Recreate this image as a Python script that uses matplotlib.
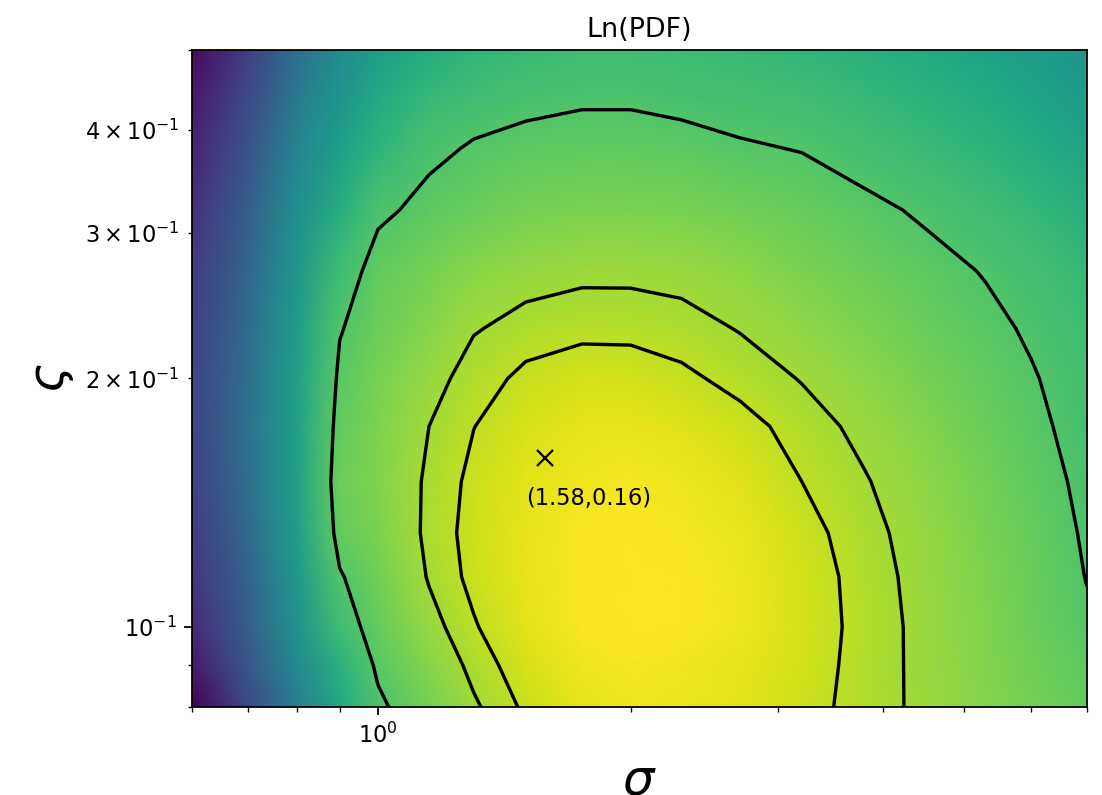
import matplotlib
matplotlib.use("Agg")
import matplotlib.pyplot as plt
import numpy as np

# grid (colour scale 0 = darkest, 1 = brightest)
sigma = [0.6, 0.7, 0.8, 0.9, 1.0, 1.15, 1.3, 1.5, 1.75, 2.0, 2.3, 2.7, 3.2, 3.8, 4.5, 5.3, 6.0, 7.0]
zeta = [0.08, 0.09, 0.10, 0.115, 0.13, 0.15, 0.175, 0.2, 0.23, 0.27, 0.32, 0.38, 0.44, 0.5]

lnpdf = [
    [0.00, 0.22, 0.420, 0.600, 0.715, 0.791, 0.854, 0.915, 0.962, 0.975, 0.970, 0.954, 0.924, 0.885, 0.848, 0.815, 0.790, 0.758],
    [0.07, 0.27, 0.470, 0.635, 0.745, 0.816, 0.878, 0.937, 0.975, 0.985, 0.980, 0.962, 0.930, 0.886, 0.847, 0.811, 0.784, 0.750],
    [0.12, 0.30, 0.505, 0.690, 0.765, 0.842, 0.900, 0.955, 0.990, 1.000, 0.994, 0.974, 0.935, 0.887, 0.846, 0.807, 0.777, 0.738],
    [0.15, 0.32, 0.535, 0.723, 0.784, 0.867, 0.920, 0.964, 0.992, 1.000, 0.994, 0.974, 0.933, 0.884, 0.842, 0.801, 0.770, 0.728],
    [0.17, 0.34, 0.555, 0.760, 0.799, 0.876, 0.924, 0.964, 0.989, 0.995, 0.988, 0.965, 0.923, 0.878, 0.836, 0.796, 0.766, 0.722],
    [0.19, 0.36, 0.568, 0.775, 0.805, 0.873, 0.918, 0.957, 0.980, 0.985, 0.976, 0.950, 0.905, 0.866, 0.825, 0.786, 0.756, 0.715],
    [0.20, 0.37, 0.570, 0.760, 0.804, 0.862, 0.904, 0.939, 0.959, 0.961, 0.951, 0.923, 0.884, 0.847, 0.809, 0.772, 0.745, 0.705],
    [0.20, 0.36, 0.565, 0.745, 0.795, 0.843, 0.884, 0.917, 0.934, 0.933, 0.916, 0.888, 0.859, 0.825, 0.791, 0.759, 0.735, 0.700],
    [0.19, 0.35, 0.553, 0.725, 0.775, 0.815, 0.858, 0.880, 0.891, 0.890, 0.880, 0.859, 0.830, 0.801, 0.772, 0.745, 0.722, 0.690],
    [0.17, 0.33, 0.530, 0.690, 0.760, 0.790, 0.818, 0.839, 0.849, 0.849, 0.844, 0.828, 0.800, 0.775, 0.750, 0.726, 0.700, 0.665],
    [0.14, 0.30, 0.495, 0.620, 0.715, 0.752, 0.773, 0.791, 0.799, 0.799, 0.795, 0.785, 0.767, 0.745, 0.720, 0.690, 0.665, 0.630],
    [0.10, 0.26, 0.450, 0.565, 0.648, 0.712, 0.738, 0.750, 0.756, 0.756, 0.752, 0.737, 0.727, 0.700, 0.675, 0.645, 0.620, 0.585],
    [0.07, 0.22, 0.405, 0.520, 0.603, 0.665, 0.690, 0.710, 0.720, 0.720, 0.710, 0.700, 0.690, 0.665, 0.640, 0.610, 0.585, 0.550],
    [0.03, 0.18, 0.360, 0.480, 0.560, 0.620, 0.655, 0.675, 0.685, 0.685, 0.680, 0.670, 0.655, 0.635, 0.610, 0.580, 0.555, 0.520],
]

levels = [0.73, 0.862, 0.905]
best = (1.58, 0.16)

Z = np.array(lnpdf)

fig = plt.figure(figsize=(1102/162, 795/162), dpi=162)
ax = fig.add_axes([0.1742, 0.1107, 0.8122, 0.8264])
ax.set_xscale('log')
ax.set_yscale('log')

ax.pcolormesh(sigma, zeta, Z, shading='gouraud', cmap='viridis', vmin=0, vmax=1)
ax.contour(sigma, zeta, Z, levels=levels, colors='k', linewidths=1.5)

ax.plot(best[0], best[1], 'kx', markersize=7)
ax.text(1.5, 0.143, "(%.2f,%.2f)" % best, va='center', fontsize=10)

ax.set_xlim(0.6, 7)
ax.set_ylim(0.08, 0.5)
ax.set_title("Ln(PDF)", fontsize=12)
ax.set_xlabel(r'$\sigma$', fontsize=22)
ax.set_ylabel(r'$\varsigma$', fontsize=22)

fig.savefig("out.png", dpi=162)
